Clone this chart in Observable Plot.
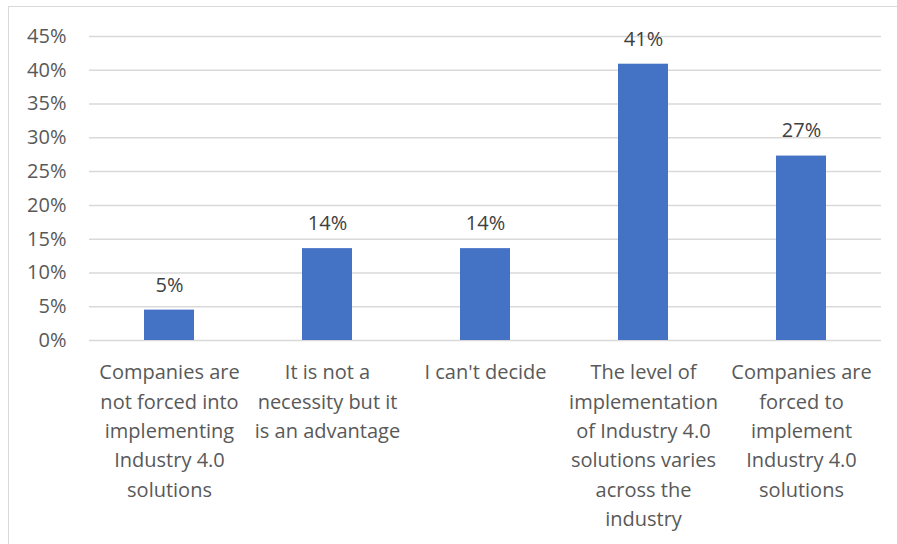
<!DOCTYPE html>
<html>
<head>
<meta charset="utf-8">
<script src="https://cdn.jsdelivr.net/npm/d3@7"></script>
<script src="https://cdn.jsdelivr.net/npm/@observablehq/plot@0.6"></script>
<style>
  html, body { margin: 0; padding: 0; background: #fff; }
  #wrap { position: relative; width: 897px; height: 544px; overflow: hidden; }
  #frame { position: absolute; left: 8px; top: 6px; width: 1000px; height: 1000px; border: 1.5px solid #d9d9d9; box-sizing: border-box; }
  #chart { position: absolute; left: 0; top: 0; }
</style>
</head>
<body>
<div id="wrap"><div id="frame"></div><div id="chart"></div></div>
<script>
const categories = [
  "Companies are\nnot forced into\nimplementing\nIndustry 4.0\nsolutions",
  "It is not a\nnecessity but it\nis an advantage",
  "I can't decide",
  "The level of\nimplementation\nof Industry 4.0\nsolutions varies\nacross the\nindustry",
  "Companies are\nforced to\nimplement\nIndustry 4.0\nsolutions"
];
const values = [0.045, 0.136, 0.136, 0.409, 0.273];
const valueLabels = ["5%", "14%", "14%", "41%", "27%"];
const yTicks = [0, 0.05, 0.10, 0.15, 0.20, 0.25, 0.30, 0.35, 0.40, 0.45];

const data = categories.map((c, i) => ({cat: c, value: values[i], label: valueLabels[i]}));

const chart = Plot.plot({
  width: 897,
  height: 544,
  marginLeft: 89,
  marginRight: 16,
  marginTop: 36,
  marginBottom: 204,
  style: {fontFamily: "'Open Sans', sans-serif", fontSize: "20px", color: "#595959", background: "transparent"},
  x: {domain: categories, paddingInner: 0.684, paddingOuter: 0.342, label: null},
  y: {domain: [0, 0.45], label: null},
  marks: [
    Plot.gridY(yTicks, {stroke: "#d9d9d9", strokeOpacity: 1, strokeWidth: 1.5}),
    Plot.axisY(yTicks, {tickSize: 0, tickPadding: 23, tickFormat: d3.format(".0%"), fontSize: 20, fill: "#595959", label: null}),
    Plot.axisX({tickSize: 0, tickPadding: 18, fontSize: 20, lineHeight: 1.465, fill: "#595959", label: null, textOverflow: null}),
    Plot.barY(data, {x: "cat", y: "value", fill: "#4472C4"}),
    Plot.text(data, {x: "cat", y: "value", text: "label", dy: -25, fontSize: 20, fill: "#404040"})
  ]
});
document.getElementById("chart").appendChild(chart);
</script>
</body>
</html>
